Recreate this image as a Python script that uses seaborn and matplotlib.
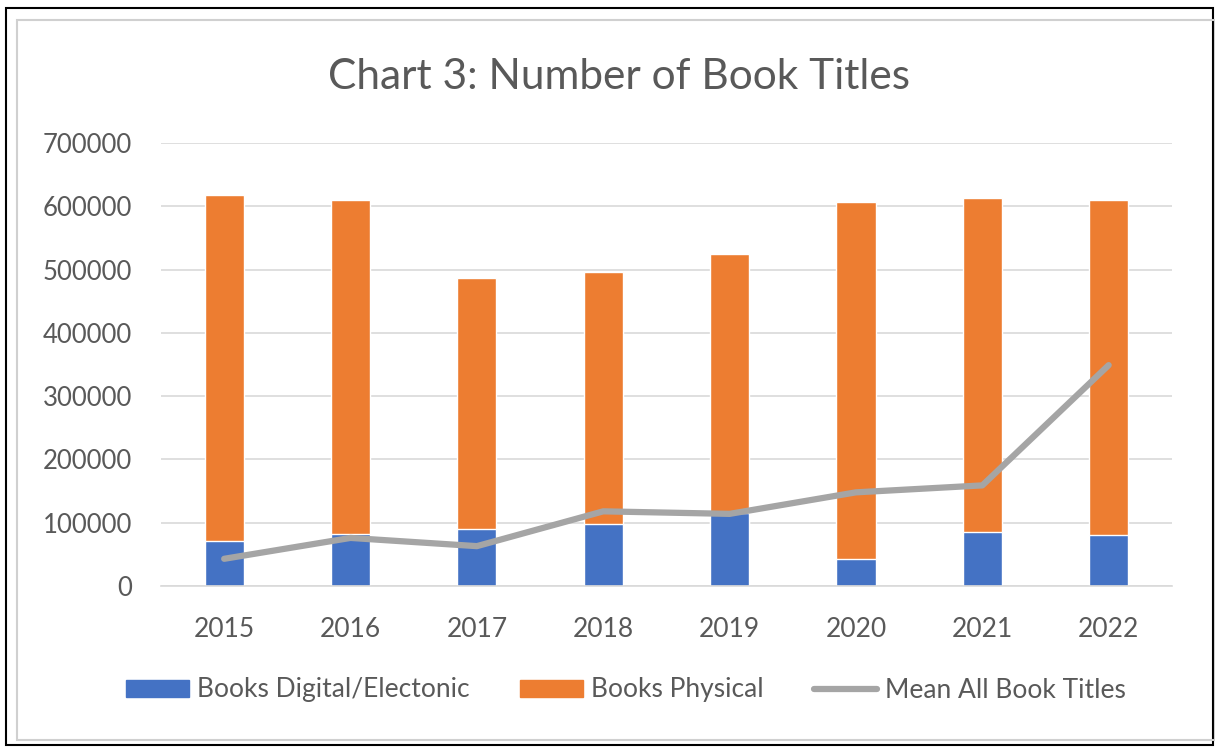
import numpy as np
import pandas as pd
import seaborn as sns
import matplotlib.pyplot as plt
from matplotlib.patches import Rectangle, Patch
from matplotlib.lines import Line2D

years = ['2015', '2016', '2017', '2018', '2019', '2020', '2021', '2022']
books_digital = [71000, 82000, 90000, 98000, 115000, 43000, 85000, 80000]
books_physical = [547000, 528000, 396000, 398000, 410000, 564000, 528000, 530000]
mean_all = [43000, 76000, 63000, 118000, 114000, 148000, 159000, 349000]

data = pd.DataFrame({'Year': years,
                     'Digital': books_digital,
                     'Physical': books_physical,
                     'Mean': mean_all})
data['Total'] = data['Digital'] + data['Physical']

sns.set_theme(style='white')
plt.rcParams['font.family'] = ['Lato', 'DejaVu Sans']
text_col = '#595959'

fig = plt.figure(figsize=(12.15, 7.49), dpi=100)
ax = fig.add_axes([0.1325, 0.2176, 0.832, 0.5915])

# stacked bars: total in orange, digital drawn over it in blue
sns.barplot(data=data, x='Year', y='Total', color='#ED7D31', width=0.31,
            saturation=1, ax=ax, zorder=2)
sns.barplot(data=data, x='Year', y='Digital', color='#4472C4', width=0.31,
            saturation=1, ax=ax, zorder=2)
sns.lineplot(data=data, x='Year', y='Mean', color='#A5A5A5', linewidth=4.5,
             sort=False, ax=ax, zorder=3, solid_capstyle='round')

ax.set_ylim(0, 700000)
ax.set_xlim(-0.5, 7.5)
ax.set_yticks(np.arange(0, 700001, 100000))
ax.set_yticklabels([str(v) for v in range(0, 700001, 100000)])
ax.grid(axis='y', color='#D9D9D9', linewidth=1.2, zorder=0)
ax.set_axisbelow(True)
for s in ['top', 'right', 'left']:
    ax.spines[s].set_visible(False)
ax.spines['bottom'].set_color('#D9D9D9')
ax.spines['bottom'].set_linewidth(1.2)
ax.tick_params(axis='y', length=0, pad=21, labelsize=18.5, labelcolor=text_col)
ax.tick_params(axis='x', length=0, pad=22, labelsize=19, labelcolor=text_col)
ax.set_xlabel('')
ax.set_ylabel('')

fig.text(619 / 1215, 1 - 77 / 749, 'Chart 3: Number of Book Titles', ha='center', va='center',
         fontsize=30.5, color=text_col)

# legend
handles = [Patch(color='#4472C4', label='Books Digital/Electonic'),
           Patch(color='#ED7D31', label='Books Physical'),
           Line2D([0], [0], color='#A5A5A5', linewidth=4.5, label='Mean All Book Titles')]
fig.legend(handles=handles, loc='center', bbox_to_anchor=(0.515, 1 - 690 / 749), ncol=3,
           frameon=False, fontsize=19, labelcolor=text_col, handlelength=2.4,
           handleheight=0.6, handletextpad=0.3, columnspacing=1.9)

# frame borders
fig.patches.append(Rectangle((6 / 1215, 4 / 749), 1 - 8 / 1215, 1 - 12 / 749,
                             transform=fig.transFigure, fill=False,
                             edgecolor='black', linewidth=1.5))
fig.patches.append(Rectangle((17 / 1215, 9 / 749), 1 - 17 / 1215, 1 - 29 / 749,
                             transform=fig.transFigure, fill=False,
                             edgecolor='#D0D0D0', linewidth=1.5))

plt.savefig('out.png', dpi=100)
